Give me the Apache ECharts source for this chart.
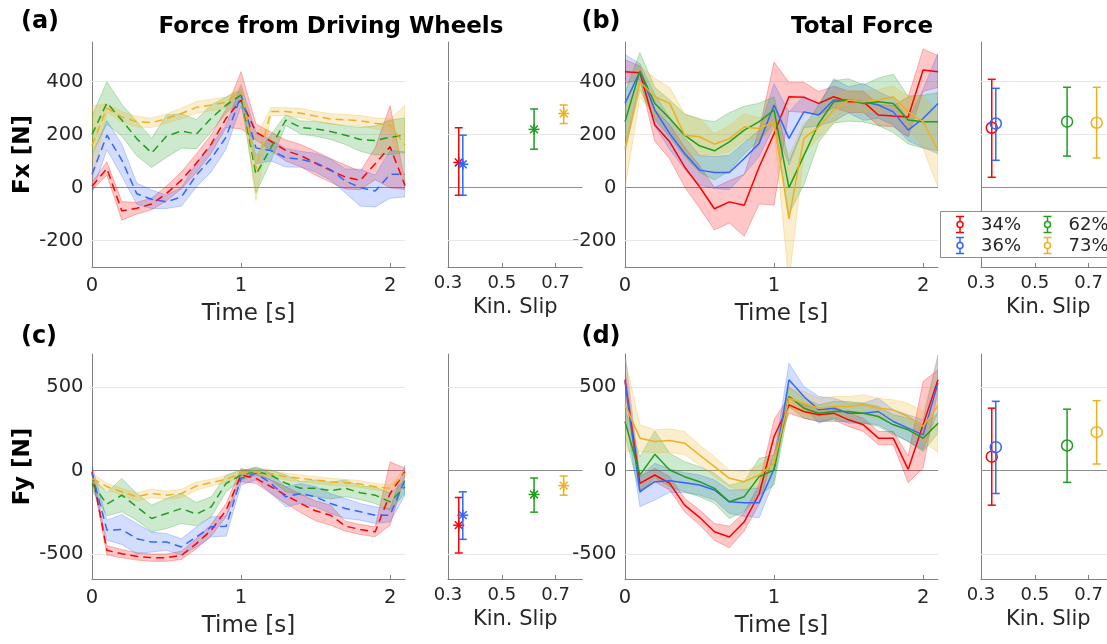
<!DOCTYPE html>
<html>
<head>
<meta charset="utf-8">
<script src="https://cdn.jsdelivr.net/npm/echarts@6/dist/echarts.min.js"></script>
<style>
  html, body { margin: 0; padding: 0; background: #ffffff; }
  #chart { width: 1107px; height: 644px; }
</style>
</head>
<body>
<div id="chart"></div>
<script>
// ---- time base (s) ----
const time = [0, 0.1, 0.2, 0.3, 0.4, 0.5, 0.6, 0.7, 0.8, 0.9, 1.0, 1.1, 1.2, 1.3, 1.4, 1.5, 1.6, 1.7, 1.8, 1.9, 2.0, 2.1];
const timeTicks = [0, 1, 2];
const slipTicks = [0.3, 0.5, 0.7];
const fxTicks = [-200, 0, 200, 400];
const fyTicks = [-500, 0, 500];

// ---- slip conditions ----
const conditions = ['34%', '36%', '62%', '73%'];
const slipValues = [0.34, 0.355, 0.62, 0.73];

// ---- (a) Fx from driving wheels: mean and spread per condition ----
const aRed      = [5, 72, -88, -78, -62, -22, 28, 92, 165, 262, 330, 210, 175, 140, 121, 92, 65, 40, 27, 90, 154, 8];
const aRedSd    = [15, 25, 35, 22, 22, 28, 32, 35, 35, 35, 108, 30, 35, 40, 42, 45, 45, 45, 35, 60, 155, 15];
const aBlue     = [50, 198, 104, -23, -44, -54, -35, 47, 110, 191, 349, 150, 140, 113, 107, 94, 68, 25, 0, -13, 50, 50];
const aBlueSd   = [70, 55, 60, 40, 35, 25, 35, 45, 50, 45, 40, 60, 40, 35, 30, 35, 40, 45, 70, 60, 90, 85];
const aGreen    = [200, 320, 255, 185, 131, 194, 214, 202, 262, 312, 349, 50, 150, 255, 227, 222, 212, 198, 182, 178, 190, 198];
const aGreenSd  = [70, 80, 60, 65, 55, 80, 65, 55, 50, 30, 20, 70, 50, 20, 25, 28, 30, 35, 45, 55, 65, 65];
const aYellow   = [160, 300, 267, 249, 245, 261, 280, 303, 312, 322, 369, 70, 287, 287, 281, 270, 259, 256, 252, 243, 236, 160];
const aYellowSd = [150, 15, 20, 20, 18, 18, 20, 22, 22, 20, 15, 120, 15, 15, 18, 18, 20, 20, 20, 20, 25, 150];

// ---- (b) total Fx ----
const bRed      = [438, 434, 236, 173, 78, 3, -80, -54, -67, 78, 204, 343, 341, 318, 343, 324, 324, 274, 270, 267, 444, 438];
const bRedSd    = [45, 25, 60, 65, 75, 80, 80, 80, 117, 140, 270, 55, 57, 45, 40, 40, 40, 40, 40, 75, 80, 60];
const bBlue     = [318, 438, 293, 204, 129, 66, 57, 57, 110, 167, 312, 186, 286, 274, 331, 331, 324, 312, 286, 217, 261, 318];
const bBlueSd   = [185, 30, 60, 60, 60, 55, 60, 65, 60, 50, 80, 100, 60, 40, 80, 50, 70, 50, 50, 40, 110, 190];
const bGreen    = [249, 440, 318, 261, 198, 158, 139, 173, 217, 249, 293, 0, 121, 242, 324, 331, 318, 324, 318, 255, 249, 249];
const bGreenSd  = [110, 70, 60, 70, 80, 100, 110, 110, 90, 70, 50, 100, 110, 70, 80, 80, 70, 90, 110, 90, 100, 110];
const bYellow   = [148, 400, 343, 318, 198, 192, 164, 185, 229, 223, 248, -118, 186, 229, 293, 331, 324, 331, 343, 286, 249, 140];
const bYellowSd = [150, 60, 70, 60, 80, 70, 40, 50, 50, 40, 30, 240, 60, 40, 50, 40, 40, 40, 40, 60, 100, 140];

// ---- (c) Fy from driving wheels ----
const cRed      = [-6, -478, -498, -514, -522, -522, -508, -438, -357, -237, -26, -46, -96, -147, -197, -241, -267, -333, -353, -367, -137, -6];
const cRedSd    = [20, 28, 25, 22, 22, 22, 25, 30, 35, 40, 40, 30, 40, 50, 55, 60, 60, 30, 30, 30, 190, 20];
const cBlue     = [-16, -357, -353, -408, -428, -428, -458, -398, -337, -333, -46, -16, -76, -157, -137, -157, -197, -227, -247, -267, -267, -56];
const cBlueSd   = [50, 60, 90, 90, 60, 50, 50, 60, 60, 60, 40, 40, 60, 60, 60, 60, 60, 60, 50, 50, 40, 90];
const cGreen    = [-76, -201, -147, -217, -287, -257, -227, -261, -217, -76, -26, -6, -26, -76, -106, -106, -120, -106, -133, -147, -187, -96];
const cGreenSd  = [40, 70, 100, 80, 80, 90, 90, 70, 60, 50, 30, 20, 30, 50, 40, 50, 50, 50, 40, 50, 50, 40];
const cYellow   = [-46, -96, -127, -157, -137, -147, -137, -92, -72, -52, -16, -6, -20, -36, -46, -56, -66, -72, -80, -96, -106, -16];
const cYellowSd = [30, 20, 20, 25, 25, 25, 25, 25, 20, 20, 20, 20, 20, 20, 20, 20, 20, 20, 20, 20, 20, 30];

// ---- (d) total Fy ----
const dRed      = [546, -76, -26, -76, -207, -280, -367, -398, -307, -140, 205, 395, 355, 335, 345, 305, 275, 195, 195, 8, 275, 545];
const dRedSd    = [60, 40, 40, 40, 40, 45, 50, 65, 55, 60, 100, 50, 40, 40, 40, 40, 40, 40, 40, 80, 260, 60];
const dBlue     = [536, -126, -66, -60, -72, -86, -116, -187, -193, -193, 10, 545, 445, 365, 375, 345, 345, 355, 295, 255, 215, 525];
const dBlueSd   = [170, 90, 110, 70, 60, 60, 60, 70, 80, 90, 70, 100, 60, 80, 60, 60, 60, 80, 70, 80, 90, 170];
const dGreen    = [295, -26, 98, 4, -36, -66, -106, -187, -156, -36, 4, 445, 375, 345, 355, 355, 345, 325, 275, 245, 195, 285];
const dGreenSd  = [80, 110, 140, 100, 90, 90, 90, 100, 90, 110, 90, 60, 60, 50, 60, 60, 60, 60, 60, 70, 80, 60];
const dYellow   = [396, 195, 175, 181, 165, 94, 24, -46, -66, -26, 44, 435, 405, 375, 385, 385, 395, 375, 365, 325, 265, 390];
const dYellowSd = [280, 80, 70, 70, 70, 60, 60, 50, 60, 60, 50, 60, 70, 60, 60, 60, 60, 60, 60, 80, 90, 280];

// ---- time-averaged force vs kinematic slip (mean, lower, upper) ----
const sideAMean = [95, 88, 220, 280];
const sideALow  = [-29, -29, 145, 242];
const sideAHigh = [226, 198, 297, 312];
const sideBMean = [226, 242, 249, 245];
const sideBLow  = [39, 103, 119, 112];
const sideBHigh = [409, 375, 379, 379];
const sideCMean = [-327, -267, -143, -90];
const sideCLow  = [-494, -412, -249, -147];
const sideCHigh = [-161, -127, -44, -32];
const sideDMean = [84, 141, 151, 231];
const sideDLow  = [-207, -137, -70, 40];
const sideDHigh = [375, 416, 369, 420];

// ---- styling ----
const FONT = 'DejaVu Sans';
const TEXT = '#262626';
const AXIS = '#808080';
const palette = ['#ff0000', '#3366ff', '#1f9e1f', '#edb120'];

function rgba(hex, a) {
  const n = parseInt(hex.slice(1), 16);
  return 'rgba(' + ((n >> 16) & 255) + ',' + ((n >> 8) & 255) + ',' + (n & 255) + ',' + a + ')';
}

const gridBoxes = [
  { left: 92,  top: 42,  width: 313,   height: 225 },
  { left: 448, top: 42,  width: 134.5, height: 225 },
  { left: 625, top: 42,  width: 313,   height: 225 },
  { left: 981, top: 42,  width: 134.5, height: 225 },
  { left: 92,  top: 354, width: 313,   height: 225 },
  { left: 448, top: 354, width: 134.5, height: 225 },
  { left: 625, top: 354, width: 313,   height: 225 },
  { left: 981, top: 354, width: 134.5, height: 225 }
];

const grid = gridBoxes.map(b => Object.assign({ outerBoundsMode: 'none', containLabel: false }, b));

function timeAxis(gi) {
  return {
    gridIndex: gi, type: 'value', min: 0, max: 2.1,
    axisLine: { show: true, onZero: false, lineStyle: { color: AXIS, width: 1 } },
    axisTick: { show: true, inside: true, length: 4, customValues: timeTicks, lineStyle: { color: AXIS } },
    axisLabel: { customValues: timeTicks, fontSize: 19.5, fontFamily: FONT, color: TEXT, margin: 9 },
    splitLine: { show: false },
    name: 'Time [s]', nameLocation: 'middle', nameGap: 36,
    nameTextStyle: { fontSize: 23, fontFamily: FONT, color: TEXT }
  };
}
function slipAxis(gi) {
  return {
    gridIndex: gi, type: 'value', min: 0.3, max: 0.8,
    axisLine: { show: true, onZero: false, lineStyle: { color: AXIS, width: 1 } },
    axisTick: { show: true, inside: true, length: 4, customValues: slipTicks, lineStyle: { color: AXIS } },
    axisLabel: { customValues: slipTicks, fontSize: 18, fontFamily: FONT, color: TEXT, margin: 7,
                 formatter: v => v.toFixed(1) },
    splitLine: { show: false },
    name: 'Kin. Slip', nameLocation: 'middle', nameGap: 30,
    nameTextStyle: { fontSize: 21, fontFamily: FONT, color: TEXT }
  };
}
function forceAxis(gi, isFx, labels, name) {
  const ax = {
    gridIndex: gi, type: 'value',
    min: isFx ? -300 : -650, max: isFx ? 550 : 700,
    axisLine: { show: true, onZero: false, lineStyle: { color: AXIS, width: 1 } },
    axisTick: { show: false },
    axisLabel: labels
      ? { customValues: isFx ? fxTicks : fyTicks, fontSize: 19.5, fontFamily: FONT, color: TEXT, margin: 8.5 }
      : { show: false },
    splitLine: { show: false }
  };
  if (name) {
    ax.name = name;
    ax.nameLocation = 'middle';
    ax.nameGap = 57;
    ax.nameRotate = 90;
    ax.nameTextStyle = { fontSize: 23, fontWeight: 'bold', fontFamily: FONT, color: '#000' };
  }
  return ax;
}

const xAxis = [timeAxis(0), slipAxis(1), timeAxis(2), slipAxis(3), timeAxis(4), slipAxis(5), timeAxis(6), slipAxis(7)];
const yAxis = [
  forceAxis(0, true, true, 'Fx [N]'), forceAxis(1, true, false),
  forceAxis(2, true, true), forceAxis(3, true, false),
  forceAxis(4, false, true, 'Fy [N]'), forceAxis(5, false, false),
  forceAxis(6, false, true), forceAxis(7, false, false)
];

// horizontal reference lines: light grid at the labelled values, darker at zero
function referenceLines(isFx) {
  const vals = (isFx ? fxTicks : fyTicks).filter(v => v !== 0);
  return {
    silent: true, z: 1, animation: false, symbol: ['none', 'none'],
    label: { show: false }, emphasis: { disabled: true },
    lineStyle: { type: 'solid', width: 1 },
    data: vals.map(v => ({ yAxis: v, lineStyle: { color: '#e8e8e8', type: 'solid', width: 1 } }))
      .concat([{ yAxis: 0, lineStyle: { color: '#8c8c8c', type: 'solid', width: 1 } }])
  };
}

// shaded band between lower and upper bound
function bandRenderer(color, lower, upper) {
  return function (params, api) {
    if (params.dataIndexInside !== 0) return null;
    const top = [], bottom = [];
    for (let i = 0; i < time.length; i++) {
      top.push(api.coord([time[i], upper[i]]));
      bottom.push(api.coord([time[i], lower[i]]));
    }
    return {
      type: 'polygon',
      shape: { points: top.concat(bottom.reverse()) },
      style: { fill: rgba(color, 0.22), stroke: rgba(color, 0.35), lineWidth: 0.8 },
      silent: true
    };
  };
}

// error bar glyph: vertical bar with caps and a marker at the centre
function errorGlyph(cx, cy, yl, yh, color, marker, cap, r, z) {
  const st = { stroke: color, lineWidth: 1.5, fill: 'none' };
  const el = (type, shape, style) => {
    const e = { type: type, shape: shape, style: style };
    if (z !== undefined) e.z = z;
    return e;
  };
  const kids = [
    el('line', { x1: cx, y1: yl, x2: cx, y2: yh }, st),
    el('line', { x1: cx - cap, y1: yl, x2: cx + cap, y2: yl }, st),
    el('line', { x1: cx - cap, y1: yh, x2: cx + cap, y2: yh }, st)
  ];
  if (marker === 'circle') {
    kids.push(el('circle', { cx: cx, cy: cy, r: r }, { stroke: color, lineWidth: 1.5, fill: z !== undefined ? '#ffffff' : 'none' }));
  } else {
    const d = r * 0.71;
    kids.push(el('line', { x1: cx - r, y1: cy, x2: cx + r, y2: cy }, st));
    kids.push(el('line', { x1: cx, y1: cy - r, x2: cx, y2: cy + r }, st));
    kids.push(el('line', { x1: cx - d, y1: cy - d, x2: cx + d, y2: cy + d }, st));
    kids.push(el('line', { x1: cx - d, y1: cy + d, x2: cx + d, y2: cy - d }, st));
  }
  return kids;
}

function errorBarRenderer(color, marker) {
  return function (params, api) {
    const x = api.value(0);
    const pm = api.coord([x, api.value(1)]);
    const pl = api.coord([x, api.value(2)]);
    const ph = api.coord([x, api.value(3)]);
    return { type: 'group', children: errorGlyph(pm[0], pm[1], pl[1], ph[1], color, marker, 4, 5.5) };
  };
}

const panels = [
  { gi: 0, isFx: true,  dashed: true,  means: [aRed, aBlue, aGreen, aYellow], sds: [aRedSd, aBlueSd, aGreenSd, aYellowSd] },
  { gi: 2, isFx: true,  dashed: false, means: [bRed, bBlue, bGreen, bYellow], sds: [bRedSd, bBlueSd, bGreenSd, bYellowSd] },
  { gi: 4, isFx: false, dashed: true,  means: [cRed, cBlue, cGreen, cYellow], sds: [cRedSd, cBlueSd, cGreenSd, cYellowSd] },
  { gi: 6, isFx: false, dashed: false, means: [dRed, dBlue, dGreen, dYellow], sds: [dRedSd, dBlueSd, dGreenSd, dYellowSd] }
];
const sides = [
  { gi: 1, isFx: true,  marker: 'star',   mean: sideAMean, low: sideALow, high: sideAHigh },
  { gi: 3, isFx: true,  marker: 'circle', mean: sideBMean, low: sideBLow, high: sideBHigh, named: true },
  { gi: 5, isFx: false, marker: 'star',   mean: sideCMean, low: sideCLow, high: sideCHigh },
  { gi: 7, isFx: false, marker: 'circle', mean: sideDMean, low: sideDLow, high: sideDHigh }
];

const series = [];
panels.forEach(p => {
  p.means.forEach((m, k) => {
    const color = palette[k];
    const lower = m.map((v, i) => v - p.sds[k][i]);
    const upper = m.map((v, i) => v + p.sds[k][i]);
    series.push({
      type: 'custom', xAxisIndex: p.gi, yAxisIndex: p.gi, clip: true, silent: true,
      data: time.map((t, i) => [t, lower[i], upper[i]]),
      encode: { x: 0, y: [1, 2] },
      renderItem: bandRenderer(color, lower, upper)
    });
    const line = {
      type: 'line', xAxisIndex: p.gi, yAxisIndex: p.gi, silent: true,
      data: time.map((t, i) => [t, m[i]]),
      symbol: 'none', showSymbol: false,
      lineStyle: { color: color, width: 1.5, type: p.dashed ? [8, 5] : 'solid' },
      itemStyle: { color: color }
    };
    if (k === 0) line.markLine = referenceLines(p.isFx);
    series.push(line);
  });
});
sides.forEach(s => {
  conditions.forEach((c, k) => {
    const item = {
      type: 'custom', xAxisIndex: s.gi, yAxisIndex: s.gi, silent: true,
      itemStyle: { color: palette[k] },
      data: [[slipValues[k], s.mean[k], s.low[k], s.high[k]]],
      encode: { x: 0, y: [1, 2, 3] },
      renderItem: errorBarRenderer(palette[k], s.marker)
    };
    if (s.named) item.name = c;
    if (k === 0) item.markLine = referenceLines(s.isFx);
    series.push(item);
  });
});

// legend box: two columns (34% 62% / 36% 73%)
const legendSlots = [
  { name: '34%', x: 960,    y: 224.5 },
  { name: '62%', x: 1047.5, y: 224.5 },
  { name: '36%', x: 960,    y: 245.5 },
  { name: '73%', x: 1047.5, y: 245.5 }
];
const legendGraphics = [{
  type: 'rect', z: 100,
  shape: { x: 940.5, y: 211.5, width: 200, height: 46 },
  style: { fill: '#ffffff', stroke: '#8c8c8c', lineWidth: 1 }
}];
legendSlots.forEach(slot => {
  const col = palette[conditions.indexOf(slot.name)];
  legendGraphics.push({
    type: 'group', z: 102,
    children: errorGlyph(slot.x, slot.y, slot.y + 8, slot.y - 8, col, 'circle', 4, 3, 102)
  });
  legendGraphics.push({
    type: 'text', z: 102, x: slot.x + 21, y: slot.y + 0.5,
    style: { text: slot.name, fill: TEXT, font: '18px "' + FONT + '"',
             textAlign: 'left', align: 'left', textVerticalAlign: 'middle', verticalAlign: 'middle' }
  });
});

function label(text, x, y, size, align) {
  return {
    type: 'text', x: x, y: y, z: 100,
    style: {
      text: text, fill: '#000', font: 'bold ' + size + 'px "' + FONT + '"',
      textAlign: align, align: align, textVerticalAlign: 'middle', verticalAlign: 'middle'
    }
  };
}

const option = {
  animation: false,
  backgroundColor: '#ffffff',
  grid: grid,
  xAxis: xAxis,
  yAxis: yAxis,
  series: series,
  graphic: [
    label('(a)', 40, 22, 24, 'center'),
    label('Force from Driving Wheels', 331, 27, 23, 'center'),
    label('(b)', 601, 22, 24, 'center'),
    label('Total Force', 933, 27, 23, 'right'),
    label('(c)', 39, 337, 24, 'center'),
    label('(d)', 601, 337, 24, 'center')
  ].concat(legendGraphics)
};

const chart = echarts.init(document.getElementById('chart'), null, { renderer: 'canvas' });
chart.setOption(option);
</script>
</body>
</html>
